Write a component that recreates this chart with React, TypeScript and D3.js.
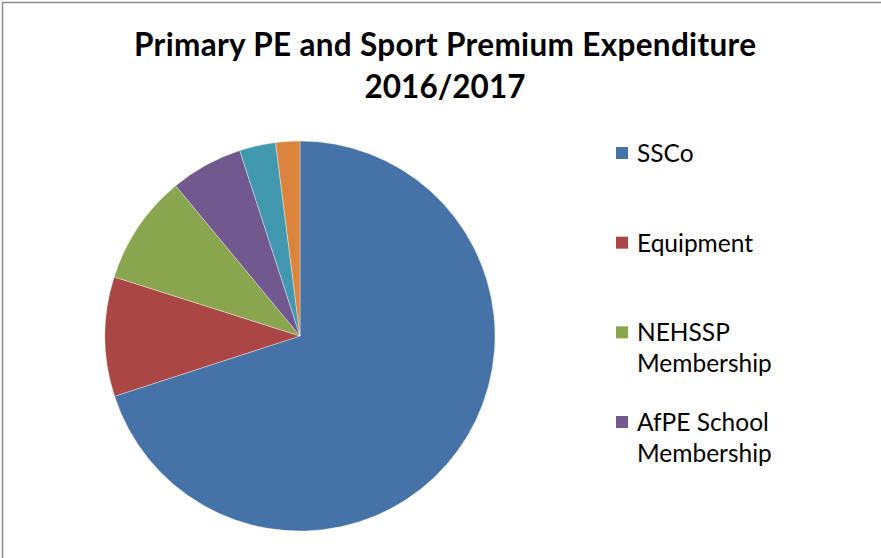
import React from "react";
import * as d3 from "d3";

const categories = ["SSCo", "Equipment", "NEHSSP Membership", "AfPE School Membership", "Other", "Other 2"];
const legendLines = [["SSCo"], ["Equipment"], ["NEHSSP", "Membership"], ["AfPE School", "Membership"]];
const values = [14000, 1980, 1820, 1200, 600, 400];
const colors = ["#4572A7", "#AA4643", "#89A54E", "#71588F", "#4198AF", "#DB843D"];
const titleLines = ["Primary PE and Sport Premium Expenditure", "2016/2017"];

const W = 881;
const H = 558;

export default function App() {
  const cx = 300;
  const cy = 336;
  const r = 195;
  const pie = d3.pie<number>().sort(null).value((d) => d)(values);
  const arc = d3.arc<d3.PieArcDatum<number>>().innerRadius(0).outerRadius(r);
  const legendY = d3.scalePoint<number>().domain([0, 1, 2, 3]).range([153, 422]);
  const font = "Lato, 'Open Sans', sans-serif";
  return (
    <svg width={W} height={H} style={{ position: "absolute", left: 0, top: 0, background: "#fff" }}>
      <rect x={2.5} y={2.5} width={W + 10} height={H + 10} fill="#fff" stroke="#8c8c8c" strokeWidth={1.5} />
      <g fontFamily={font} fontWeight="bold" fontSize={31.5} fill="#000" textAnchor="middle">
        {titleLines.map((t, i) => (
          <text key={i} x={445} y={56 + i * 42} {...(i === 0 ? { textLength: 622, lengthAdjust: "spacing" } : {})}>{t}</text>
        ))}
      </g>
      <g transform={`translate(${cx},${cy})`}>
        {pie.map((p, i) => (
          <path key={categories[i]} d={arc(p) || ""} fill={colors[i]} stroke="#ffffff" strokeWidth={0.6} strokeOpacity={0.6} />
        ))}
      </g>
      <g fontFamily={font} fontSize={24.5} fill="#000">
        {legendLines.map((lines, i) => {
          const y = legendY(i) as number;
          return (
            <g key={i}>
              <rect x={616} y={y - 6} width={12} height={12} fill={colors[i]} />
              {lines.map((l, j) => (
                <text key={j} x={637} y={y + 9 + j * 31}>{l}</text>
              ))}
            </g>
          );
        })}
      </g>
    </svg>
  );
}
